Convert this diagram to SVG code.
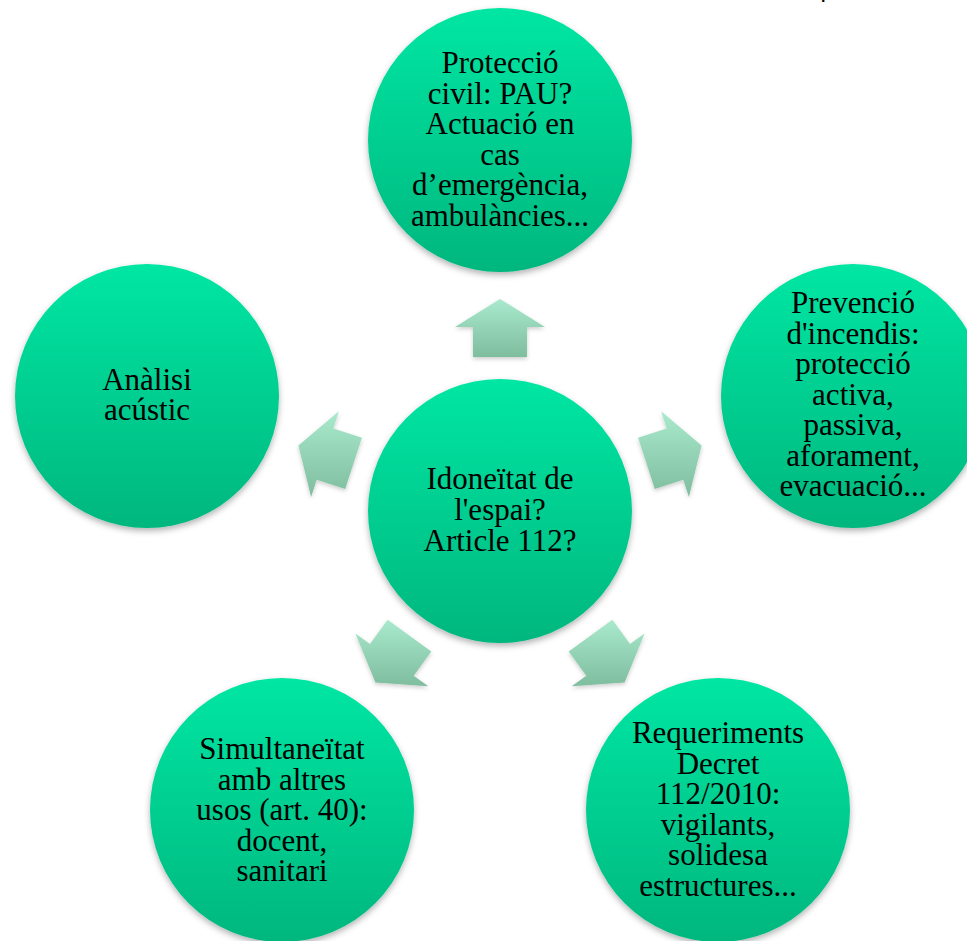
<svg xmlns="http://www.w3.org/2000/svg" width="967" height="941" viewBox="0 0 967 941">
<defs>
<linearGradient id="cg" x1="0" y1="0" x2="0" y2="1">
<stop offset="0" stop-color="#00E6A3"/>
<stop offset="1" stop-color="#00B77E"/>
</linearGradient>
<linearGradient id="ag" x1="0" y1="0" x2="0" y2="1">
<stop offset="0" stop-color="#A9E9CD"/>
<stop offset="1" stop-color="#7EBD9E"/>
</linearGradient>
<filter id="sh" x="-20%" y="-20%" width="140%" height="140%">
<feDropShadow dx="0" dy="3" stdDeviation="3" flood-color="#000" flood-opacity="0.3"/>
</filter>
<filter id="ash" x="-20%" y="-20%" width="140%" height="140%">
<feDropShadow dx="0" dy="2" stdDeviation="2" flood-color="#000" flood-opacity="0.2"/>
</filter>
</defs>
<style>
.c{fill:url(#cg);filter:url(#sh)}
.a{fill:url(#ag);filter:url(#ash)}
.t{font-family:"Liberation Serif","Times New Roman",serif;font-size:31px;fill:#000;text-anchor:middle}
</style>
<rect width="967" height="941" fill="#fff"/>
<text x="821" y="-1" font-family="Liberation Sans, Arial, sans-serif" font-weight="bold" font-size="16" fill="#000">p</text>
<g id="connectors">
<polygon class="a" points="500,299 545,327 527,327 527,357 473,357 473,327 455,327"/>
<polygon class="a" points="701.6,445.5 688.9,496.9 683.3,479.8 654.8,489.1 638.1,437.7 666.6,428.5 661.1,411.3"/>
<polygon class="a" points="624.6,682.5 571.7,686.3 586.3,675.7 568.7,651.5 612.4,619.7 630.0,644.0 644.6,633.4"/>
<polygon class="a" points="375.4,682.5 355.4,633.4 370.0,644.0 387.6,619.7 431.3,651.5 413.7,675.7 428.3,686.3"/>
<polygon class="a" points="298.4,445.5 338.9,411.3 333.4,428.5 361.9,437.7 345.2,489.1 316.7,479.8 311.1,496.9"/>
</g>
<g id="node-top">
<circle class="c" cx="500" cy="140" r="132"/>
<text class="t"><tspan x="500" y="73">Protecció</tspan><tspan x="500" y="103.5">civil: PAU?</tspan><tspan x="500" y="134">Actuació en</tspan><tspan x="500" y="164.5">cas</tspan><tspan x="500" y="195">d’emergència,</tspan><tspan x="500" y="225.5">ambulàncies...</tspan></text>
</g>
<g id="node-right">
<circle class="c" cx="853" cy="396" r="132"/>
<text class="t"><tspan x="853" y="313">Prevenció</tspan><tspan x="853" y="343.5">d'incendis:</tspan><tspan x="853" y="374">protecció</tspan><tspan x="853" y="404.5">activa,</tspan><tspan x="853" y="435">passiva,</tspan><tspan x="853" y="465.5">aforament,</tspan><tspan x="853" y="496">evacuació...</tspan></text>
</g>
<g id="node-bottom-right">
<circle class="c" cx="718" cy="810" r="132"/>
<text class="t"><tspan x="718" y="743">Requeriments</tspan><tspan x="718" y="773.5">Decret</tspan><tspan x="718" y="804">112/2010:</tspan><tspan x="718" y="834.5">vigilants,</tspan><tspan x="718" y="865">solidesa</tspan><tspan x="718" y="895.5">estructures...</tspan></text>
</g>
<g id="node-bottom-left">
<circle class="c" cx="282" cy="810" r="132"/>
<text class="t"><tspan x="282" y="759">Simultaneïtat</tspan><tspan x="282" y="789.5">amb altres</tspan><tspan x="282" y="820">usos (art. 40):</tspan><tspan x="282" y="850.5">docent,</tspan><tspan x="282" y="881">sanitari</tspan></text>
</g>
<g id="node-left">
<circle class="c" cx="147" cy="396" r="132"/>
<text class="t"><tspan x="147" y="389.5">Anàlisi</tspan><tspan x="147" y="420">acústic</tspan></text>
</g>
<g id="node-center">
<circle class="c" cx="500" cy="511" r="132"/>
<text class="t"><tspan x="500" y="488.5">Idoneïtat de</tspan><tspan x="500" y="519.5">l'espai?</tspan><tspan x="500" y="550.5">Article 112?</tspan></text>
</g>
</svg>
